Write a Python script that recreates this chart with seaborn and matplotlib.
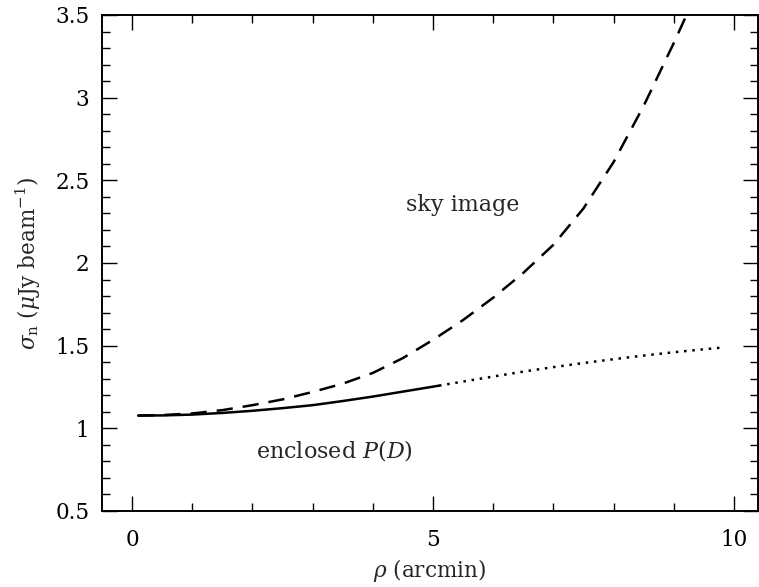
import matplotlib
matplotlib.use("Agg")
import matplotlib.pyplot as plt
import seaborn as sns
import pandas as pd
from matplotlib.ticker import MultipleLocator

# Noise vs. radius: enclosed P(D) (solid, then dotted extension) and sky image (dashed)
rho_pd = [0.1, 0.5, 1.0, 1.5, 2.0, 2.5, 3.0, 3.5, 4.0, 4.5, 5.1]
sig_pd = [1.077, 1.078, 1.083, 1.093, 1.106, 1.122, 1.140, 1.165, 1.192, 1.222, 1.258]

rho_ext = [5.1, 5.5, 6.0, 6.5, 7.0, 7.5, 8.0, 8.5, 9.0, 9.5, 9.85]
sig_ext = [1.258, 1.283, 1.313, 1.343, 1.370, 1.395, 1.418, 1.440, 1.460, 1.478, 1.490]

rho_sky = [0.1, 0.5, 1.0, 1.5, 2.0, 2.5, 3.0, 3.5, 4.0, 4.5, 5.0, 5.5, 6.0,
           6.5, 7.0, 7.5, 8.0, 8.5, 9.0, 9.3]
sig_sky = [1.077, 1.080, 1.090, 1.110, 1.140, 1.175, 1.220, 1.270, 1.335, 1.425,
           1.535, 1.655, 1.790, 1.940, 2.110, 2.330, 2.610, 2.950, 3.330, 3.570]

x_ticks = [0, 5, 10]
y_ticks = [0.5, 1, 1.5, 2, 2.5, 3, 3.5]
y_ticklabels = ["0.5", "1", "1.5", "2", "2.5", "3", "3.5"]

sns.set_theme(style="ticks")
plt.rcParams["font.family"] = ["DejaVu Serif"]
plt.rcParams["mathtext.fontset"] = "dejavuserif"

fig = plt.figure(figsize=(7.59, 5.87), dpi=100)
ax = fig.add_axes([0.1344, 0.1295, 0.8643, 0.8450])

df_pd = pd.DataFrame({"rho": rho_pd, "sigma": sig_pd})
df_ext = pd.DataFrame({"rho": rho_ext, "sigma": sig_ext})
df_sky = pd.DataFrame({"rho": rho_sky, "sigma": sig_sky})

lw = 1.8
sns.lineplot(data=df_pd, x="rho", y="sigma", ax=ax, color="black", lw=lw,
             linestyle="-", sort=False, estimator=None)
sns.lineplot(data=df_ext, x="rho", y="sigma", ax=ax, color="black", lw=lw,
             linestyle=(0, (1, 2.3)), sort=False, estimator=None)
sns.lineplot(data=df_sky, x="rho", y="sigma", ax=ax, color="black", lw=lw,
             linestyle=(0, (6.5, 4)), sort=False, estimator=None)

ax.set_xlim(-0.5, 10.4)
ax.set_ylim(0.5, 3.5)
ax.set_xticks(x_ticks)
ax.set_xticklabels([str(t) for t in x_ticks])
ax.set_yticks(y_ticks)
ax.set_yticklabels(y_ticklabels)
ax.xaxis.set_minor_locator(MultipleLocator(1))
ax.yaxis.set_minor_locator(MultipleLocator(0.1))

ax.tick_params(which="both", direction="in", top=True, right=True,
               labelsize=15.5, colors="black", width=1.0)
ax.tick_params(which="major", length=11)
ax.tick_params(which="minor", length=5.5)
ax.tick_params(axis="x", which="major", pad=13)
ax.tick_params(axis="y", which="major", pad=9)
for s in ax.spines.values():
    s.set_linewidth(1.4)
    s.set_color("black")

ax.set_xlabel(r"$\rho$ (arcmin)", fontsize=15.5, labelpad=4)
ax.set_ylabel(r"$\sigma_{\rm n}$ ($\mu$Jy beam$^{-1}$)", fontsize=15.5, labelpad=9)

ax.text(5.5, 2.35, "sky image", fontsize=16, ha="center", va="center")
ax.text(3.37, 0.865, r"enclosed $\mathit{P(D)}$", fontsize=16, ha="center", va="center")

fig.savefig("out.png", dpi=100)
